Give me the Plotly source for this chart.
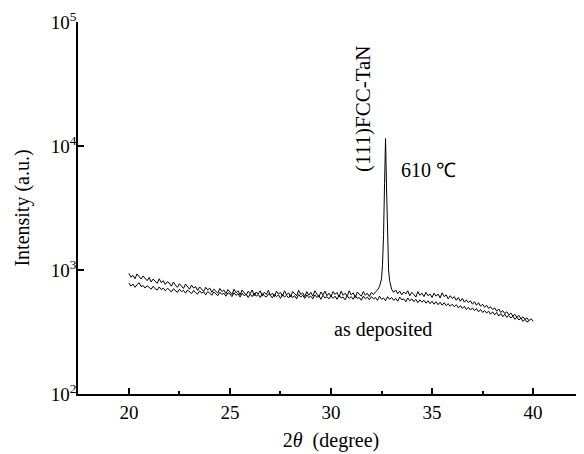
import plotly.graph_objects as go

# 610 C annealed sample
x_610 = [20.0, 20.1, 20.2, 20.3, 20.4, 20.5, 20.6, 20.7, 20.8, 20.9,
         21.0, 21.1, 21.2, 21.3, 21.4, 21.5, 21.6, 21.7, 21.8, 21.9,
         22.0, 22.1, 22.2, 22.3, 22.4, 22.5, 22.6, 22.7, 22.8, 22.9,
         23.0, 23.1, 23.2, 23.3, 23.4, 23.5, 23.6, 23.7, 23.8, 23.9,
         24.0, 24.1, 24.2, 24.3, 24.4, 24.5, 24.6, 24.7, 24.8, 24.9,
         25.0, 25.1, 25.2, 25.3, 25.4, 25.5, 25.6, 25.7, 25.8, 25.9,
         26.0, 26.1, 26.2, 26.3, 26.4, 26.5, 26.6, 26.7, 26.8, 26.9,
         27.0, 27.1, 27.2, 27.3, 27.4, 27.5, 27.6, 27.7, 27.8, 27.9,
         28.0, 28.1, 28.2, 28.3, 28.4, 28.5, 28.6, 28.7, 28.8, 28.9,
         29.0, 29.1, 29.2, 29.3, 29.4, 29.5, 29.6, 29.7, 29.8, 29.9,
         30.0, 30.1, 30.2, 30.3, 30.4, 30.5, 30.6, 30.7, 30.8, 30.9,
         31.0, 31.1, 31.2, 31.3, 31.4, 31.5, 31.6, 31.7, 31.8, 31.9,
         32.0, 32.1, 32.2, 32.3, 32.4, 32.5, 32.55, 32.6, 32.65, 32.7,
         32.75, 32.8, 32.85, 32.9, 32.95,
         33.0, 33.1, 33.2, 33.3, 33.4, 33.5, 33.6, 33.7, 33.8, 33.9,
         34.0, 34.1, 34.2, 34.3, 34.4, 34.5, 34.6, 34.7, 34.8, 34.9,
         35.0, 35.1, 35.2, 35.3, 35.4, 35.5, 35.6, 35.7, 35.8, 35.9,
         36.0, 36.1, 36.2, 36.3, 36.4, 36.5, 36.6, 36.7, 36.8, 36.9,
         37.0, 37.1, 37.2, 37.3, 37.4, 37.5, 37.6, 37.7, 37.8, 37.9,
         38.0, 38.1, 38.2, 38.3, 38.4, 38.5, 38.6, 38.7, 38.8, 38.9,
         39.0, 39.1, 39.2, 39.3, 39.4, 39.5, 39.6, 39.7, 39.8, 39.9, 40.0]
y_610 = [940, 875, 905, 850, 930, 880, 845, 895, 860, 820,
         870, 800, 845, 815, 780, 850, 790, 820, 765, 805,
         785, 740, 800, 755, 725, 775, 740, 710, 770, 730,
         700, 755, 715, 735, 685, 730, 700, 670, 725, 690,
         715, 660, 700, 680, 650, 710, 670, 690, 645, 695,
         660, 635, 700, 655, 680, 630, 690, 655, 625, 675,
         645, 690, 620, 665, 640, 680, 615, 660, 635, 685,
         625, 650, 610, 675, 640, 660, 615, 680, 630, 655,
         605, 670, 640, 620, 685, 635, 655, 610, 670, 625,
         660, 615, 680, 640, 605, 665, 630, 675, 620, 650,
         610, 670, 635, 660, 605, 675, 625, 650, 615, 680,
         630, 655, 600, 665, 640, 615, 670, 625, 650, 610,
         660, 635, 665, 690, 735, 850, 1100, 1900, 5000, 11500,
         4500, 1700, 1000, 820, 740,
         700, 660, 690, 645, 675, 630, 665, 640, 680, 620,
         660, 635, 605, 670, 625, 650, 610, 660, 620, 640,
         600, 650, 615, 640, 595, 655, 610, 630, 585, 620,
         590, 610, 570, 600, 560, 590, 550, 575, 545, 565,
         530, 555, 520, 545, 510, 530, 500, 520, 490, 505,
         480, 495, 465, 485, 455, 470, 445, 460, 435, 450,
         425, 440, 415, 430, 405, 420, 400, 410, 390, 405, 385]

# as deposited sample
x_dep = [20.0, 20.1, 20.2, 20.3, 20.4, 20.5, 20.6, 20.7, 20.8, 20.9,
         21.0, 21.1, 21.2, 21.3, 21.4, 21.5, 21.6, 21.7, 21.8, 21.9,
         22.0, 22.1, 22.2, 22.3, 22.4, 22.5, 22.6, 22.7, 22.8, 22.9,
         23.0, 23.1, 23.2, 23.3, 23.4, 23.5, 23.6, 23.7, 23.8, 23.9,
         24.0, 24.1, 24.2, 24.3, 24.4, 24.5, 24.6, 24.7, 24.8, 24.9,
         25.0, 25.1, 25.2, 25.3, 25.4, 25.5, 25.6, 25.7, 25.8, 25.9,
         26.0, 26.1, 26.2, 26.3, 26.4, 26.5, 26.6, 26.7, 26.8, 26.9,
         27.0, 27.1, 27.2, 27.3, 27.4, 27.5, 27.6, 27.7, 27.8, 27.9,
         28.0, 28.1, 28.2, 28.3, 28.4, 28.5, 28.6, 28.7, 28.8, 28.9,
         29.0, 29.1, 29.2, 29.3, 29.4, 29.5, 29.6, 29.7, 29.8, 29.9,
         30.0, 30.1, 30.2, 30.3, 30.4, 30.5, 30.6, 30.7, 30.8, 30.9,
         31.0, 31.1, 31.2, 31.3, 31.4, 31.5, 31.6, 31.7, 31.8, 31.9,
         32.0, 32.1, 32.2, 32.3, 32.4, 32.5, 32.6, 32.7, 32.8, 32.9,
         33.0, 33.1, 33.2, 33.3, 33.4, 33.5, 33.6, 33.7, 33.8, 33.9,
         34.0, 34.1, 34.2, 34.3, 34.4, 34.5, 34.6, 34.7, 34.8, 34.9,
         35.0, 35.1, 35.2, 35.3, 35.4, 35.5, 35.6, 35.7, 35.8, 35.9,
         36.0, 36.1, 36.2, 36.3, 36.4, 36.5, 36.6, 36.7, 36.8, 36.9,
         37.0, 37.1, 37.2, 37.3, 37.4, 37.5, 37.6, 37.7, 37.8, 37.9,
         38.0, 38.1, 38.2, 38.3, 38.4, 38.5, 38.6, 38.7, 38.8, 38.9,
         39.0, 39.1, 39.2, 39.3, 39.4, 39.5, 39.6, 39.7, 39.8]
y_dep = [785, 740, 770, 725, 760, 790, 735, 750, 715, 745,
         725, 700, 740, 705, 690, 730, 695, 715, 680, 710,
         695, 665, 705, 680, 660, 700, 670, 685, 650, 690,
         670, 645, 685, 655, 640, 680, 650, 665, 630, 670,
         650, 625, 665, 640, 620, 660, 635, 650, 615, 655,
         640, 610, 655, 625, 645, 605, 650, 620, 640, 600,
         640, 610, 650, 615, 635, 600, 645, 620, 605, 640,
         625, 595, 640, 610, 630, 590, 635, 605, 625, 595,
         630, 600, 620, 585, 635, 605, 625, 590, 630, 600,
         615, 585, 630, 600, 620, 580, 625, 595, 610, 585,
         620, 590, 615, 580, 625, 595, 605, 575, 620, 590,
         610, 580, 620, 590, 600, 570, 615, 585, 605, 575,
         610, 585, 600, 570, 615, 580, 595, 565, 610, 580,
         600, 570, 590, 560, 605, 575, 585, 555, 595, 565,
         585, 555, 580, 545, 575, 550, 570, 540, 565, 535,
         560, 530, 555, 525, 550, 520, 545, 515, 535, 510,
         530, 505, 525, 495, 515, 490, 510, 480, 500, 475,
         495, 470, 490, 460, 480, 455, 470, 450, 465, 440,
         460, 435, 455, 425, 445, 420, 440, 415, 430, 410,
         425, 400, 415, 395, 410, 385, 400, 380, 390]

y_tickvals = [100, 1000, 10000, 100000]
y_ticktext = ["10<sup>2</sup>", "10<sup>3</sup>", "10<sup>4</sup>", "10<sup>5</sup>"]
x_tickvals = [20, 25, 30, 35, 40]
x_minor_tickvals = [22.5, 27.5, 32.5, 37.5, 42.5]

font_family = "Liberation Serif"

fig = go.Figure()
fig.add_trace(go.Scatter(x=x_dep, y=y_dep, mode="lines",
                         line=dict(color="black", width=1), showlegend=False))
fig.add_trace(go.Scatter(x=x_610, y=y_610, mode="lines",
                         line=dict(color="black", width=1), showlegend=False))

fig.add_annotation(x=31.59, y=4.30, text="(111)FCC-TaN", textangle=-90,
                   showarrow=False, font=dict(size=21, color="black", family=font_family))
fig.add_annotation(x=34.81, y=3.81, text="610 ℃", showarrow=False,
                   font=dict(size=20, color="black", family=font_family))
fig.add_annotation(x=32.58, y=2.52, text="as deposited", showarrow=False,
                   font=dict(size=20, color="black", family=font_family))

# page body has an 8px default margin, so compensate in the figure margins
fig.update_layout(
    width=584, height=454,
    margin=dict(l=70, r=8, t=14, b=68),
    paper_bgcolor="white", plot_bgcolor="white",
    font=dict(family=font_family, size=19, color="black"),
    xaxis=dict(range=[17.48, 42.52], tickvals=x_tickvals, automargin=False,
               ticks="inside", ticklen=6, tickwidth=1.5, tickcolor="black",
               showline=True, linecolor="black", linewidth=1.5,
               showgrid=False, zeroline=False,
               minor=dict(tickvals=x_minor_tickvals, ticks="inside", ticklen=3, tickcolor="black"),
               title=dict(text="2<i>θ</i>  (degree)", standoff=11, font=dict(size=20))),
    yaxis=dict(type="log", range=[2, 5], tickvals=y_tickvals, ticktext=y_ticktext, automargin=False,
               ticks="inside", ticklen=6, tickwidth=1.5, tickcolor="black",
               ticklabelstandoff=-4,
               showline=True, linecolor="black", linewidth=1.5,
               showgrid=False, zeroline=False,
               title=dict(text="Intensity (a.u.)", standoff=16, font=dict(size=20))),
)

fig.write_html("out.html")
